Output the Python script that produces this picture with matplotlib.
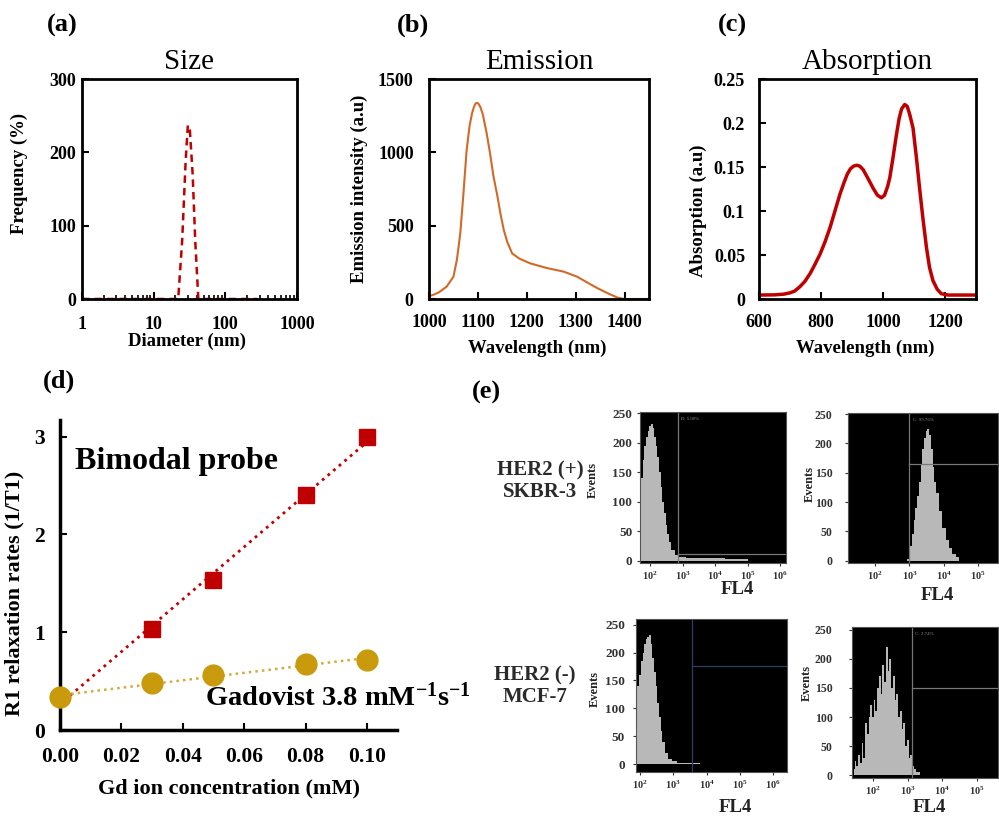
import numpy as np
import matplotlib
matplotlib.use("Agg")
import matplotlib.pyplot as plt

plt.rcParams["font.family"] = ["Liberation Serif", "DejaVu Serif"]
plt.rcParams["font.weight"] = "bold"
plt.rcParams["axes.labelweight"] = "bold"
plt.rcParams["mathtext.default"] = "regular"

W, H = 999, 818
RED = "#c00000"
ORANGE = "#d06a28"
GOLD = "#c99a0c"
HIST = "#b8b8b8"

# -----------------------------
# Data
# -----------------------------
# (a) size distribution
size_nm = [1, 22, 25, 28, 30, 32, 35, 38, 42, 280]
size_freq = [0, 0, 80, 190, 237, 230, 170, 80, 0, 0]

# (b) emission spectrum
em_wl = [1000, 1010, 1020, 1036, 1050, 1057, 1064, 1070, 1077, 1083, 1088, 1092, 1095,
         1098, 1101, 1105, 1110, 1118, 1125, 1132, 1140, 1146, 1153, 1160, 1170, 1185,
         1207, 1240, 1276, 1303, 1325, 1345, 1365, 1386, 1400, 1450]
em_int = [20, 30, 45, 84, 152, 266, 448, 700, 1016, 1180, 1266, 1310, 1332,
          1338, 1332, 1310, 1260, 1130, 990, 834, 700, 584, 470, 390, 311, 275,
          243, 212, 186, 152, 110, 73, 40, 9, 0, 0]

# (c) absorption spectrum
abs_wl = [600, 650, 680, 700, 715, 732, 748, 765, 780, 797, 813, 829, 845, 861, 875,
          885, 895, 905, 915, 925, 936, 950, 968, 982, 995, 1005, 1015, 1022, 1032,
          1043, 1052, 1060, 1070, 1078, 1086, 1097, 1108, 1118, 1128, 1140, 1150,
          1161, 1175, 1188, 1210, 1300]
abs_val = [0.0045, 0.0047, 0.0055, 0.007, 0.009, 0.014, 0.020, 0.029, 0.039, 0.051,
           0.065, 0.081, 0.100, 0.119, 0.133, 0.142, 0.148, 0.151, 0.152, 0.151,
           0.147, 0.138, 0.126, 0.118, 0.115, 0.118, 0.128, 0.138, 0.160,
           0.186, 0.205, 0.216, 0.221, 0.219, 0.210, 0.194, 0.160, 0.126, 0.094,
           0.059, 0.036, 0.021, 0.011, 0.006, 0.0045, 0.0045]

# (d) relaxation rates
gd_conc = [0.0, 0.03, 0.05, 0.08, 0.10]
r1_probe = [0.33, 1.03, 1.53, 2.40, 3.00]
r1_gadovist = [0.34, 0.48, 0.56, 0.67, 0.72]

# (e) flow cytometry histograms (log10 FL4, events)
her2p_ctrl_x = [1.7, 1.75, 1.8, 1.85, 1.9, 1.95, 2.0, 2.05, 2.1, 2.15, 2.2, 2.25, 2.3,
                2.35, 2.4, 2.45, 2.5, 2.55, 2.6, 2.7, 2.8, 2.9, 3.0, 3.2, 3.5, 4.0, 4.5, 5.0]
her2p_ctrl_y = [105, 140, 170, 195, 210, 220, 228, 232, 225, 210, 195, 175, 150,
                125, 100, 80, 60, 45, 32, 18, 10, 7, 6, 5, 5, 4, 3, 2]
her2p_probe_x = [2.9, 2.95, 3.0, 3.05, 3.1, 3.15, 3.2, 3.25, 3.3, 3.35, 3.4, 3.45, 3.5,
                 3.55, 3.6, 3.65, 3.7, 3.75, 3.8, 3.9, 4.0, 4.1, 4.2, 4.3, 4.4, 4.5]
her2p_probe_y = [0, 3, 10, 25, 45, 70, 90, 110, 135, 165, 190, 210, 222,
                 225, 215, 190, 160, 135, 115, 85, 55, 35, 22, 12, 6, 0]
her2n_ctrl_x = [1.88, 1.95, 2.0, 2.05, 2.1, 2.15, 2.2, 2.25, 2.3, 2.35, 2.4, 2.45, 2.5,
                2.55, 2.6, 2.65, 2.7, 2.8, 2.9, 3.0, 3.2, 3.5, 4.0]
her2n_ctrl_y = [110, 140, 160, 185, 200, 215, 225, 228, 232, 215, 190, 165, 140,
                110, 85, 60, 40, 20, 10, 5, 3, 2, 1]
her2n_probe_x = [1.45, 1.5, 1.55, 1.6, 1.65, 1.7, 1.75, 1.8, 1.85, 1.9, 1.95, 2.0, 2.05,
                 2.1, 2.15, 2.2, 2.25, 2.3, 2.35, 2.4, 2.45, 2.5, 2.55, 2.6, 2.65, 2.7,
                 2.75, 2.8, 2.85, 2.9, 2.95, 3.0, 3.05, 3.1, 3.15, 3.2, 3.3, 3.4]
her2n_probe_y = [10, 25, 15, 35, 20, 55, 30, 90, 70, 100, 120, 100, 130,
                 110, 150, 170, 140, 190, 160, 220, 180, 200, 150, 170, 130, 140,
                 100, 110, 80, 90, 50, 60, 30, 35, 15, 10, 5, 0]


# -----------------------------
# Helpers
# -----------------------------
def box(left, top, right, bottom):
    return [left / W, 1 - bottom / H, (right - left) / W, (bottom - top) / H]


def fxy(x, y):
    return x / W, 1 - y / H


def style_frame(ax, ypad, xpad):
    for s in ax.spines.values():
        s.set_linewidth(2)
    ax.tick_params(direction="in", width=1.5, length=5, labelsize=13)
    ax.tick_params(axis="y", pad=ypad)
    ax.tick_params(axis="x", pad=xpad)
    ax.tick_params(which="minor", direction="in", width=1.2, length=3)


def top_labels(ax, title, xlabel, ylabel, xlab_y, ylab_x, ylab_y):
    ax.set_title(title, fontsize=21, fontweight="normal", pad=7)
    ax.set_xlabel(xlabel, fontsize=13.5)
    ax.set_ylabel(ylabel, fontsize=13.5)
    ax.xaxis.set_label_coords(0.49, xlab_y)
    ax.yaxis.set_label_coords(ylab_x, ylab_y)


# -----------------------------
# Top row
# -----------------------------
def plot_size(fig):
    ax = fig.add_axes(box(82, 79, 297, 299))
    ax.plot(size_nm, size_freq, color=RED, ls=(0, (3, 2)), lw=1.8)
    ax.set_xscale("log")
    ax.set_xlim(1, 1000)
    ax.set_ylim(0, 300)
    ax.set_xticks([1, 10, 100, 1000], ["1", "10", "100", "1000"])
    ax.set_yticks([0, 100, 200, 300])
    style_frame(ax, 4, 12)
    top_labels(ax, "Size", "Diameter (nm)", "Frequency (%)", -0.155, -0.25, 0.57)


def plot_emission(fig):
    ax = fig.add_axes(box(429, 79, 649, 299))
    ax.plot(em_wl, em_int, color=ORANGE, lw=1.5)
    ax.set_xlim(1000, 1450)
    ax.set_ylim(0, 1500)
    ax.set_xticks([1000, 1100, 1200, 1300, 1400])
    ax.set_yticks([0, 500, 1000, 1500])
    style_frame(ax, 11, 11)
    top_labels(ax, "Emission", "Wavelength (nm)", "Emission intensity (a.u)",
               -0.185, -0.275, 0.5)


def plot_absorption(fig):
    ax = fig.add_axes(box(759, 79, 976, 299))
    ax.plot(abs_wl, abs_val, color=RED, lw=2.5)
    ax.set_xlim(600, 1300)
    ax.set_ylim(0, 0.25)
    ax.set_xticks([600, 800, 1000, 1200])
    ax.set_yticks([0, 0.05, 0.1, 0.15, 0.2, 0.25],
                  ["0", "0.05", "0.1", "0.15", "0.2", "0.25"])
    style_frame(ax, 10, 11)
    top_labels(ax, "Absorption", "Wavelength (nm)", "Absorption (a.u)",
               -0.185, -0.24, 0.4)


# -----------------------------
# Relaxation panel
# -----------------------------
def plot_relaxation(fig):
    ax = fig.add_axes(box(60, 420, 397, 730))
    x = np.array(gd_conc)
    xs = np.array([0.0015, 0.1])
    k1, b1 = np.polyfit(x, r1_probe, 1)
    k2, b2 = np.polyfit(x, r1_gadovist, 1)
    ax.plot(xs, k1 * xs + b1, color=RED, ls=":", lw=2, zorder=2)
    ax.plot(xs, k2 * xs + b2, color="#d2ab3a", ls=":", lw=1.8, zorder=2)
    ax.plot(x[1:], r1_probe[1:], "s", color=RED, ms=12, zorder=3)
    ax.plot(x, r1_gadovist, "o", color=GOLD, ms=15, zorder=4, clip_on=False)
    ax.set_xlim(0, 0.1098)
    ax.set_ylim(0, 3.17)
    ax.set_xticks([0, 0.02, 0.04, 0.06, 0.08, 0.10],
                  ["0.00", "0.02", "0.04", "0.06", "0.08", "0.10"])
    ax.set_yticks([0, 1, 2, 3])
    for s in ["top", "right"]:
        ax.spines[s].set_visible(False)
    for s in ["left", "bottom"]:
        ax.spines[s].set_linewidth(2.5)
    ax.tick_params(direction="in", width=1.5, length=5, labelsize=15.5)
    ax.tick_params(axis="x", pad=12)
    ax.tick_params(axis="y", pad=11)
    ax.set_xlabel("Gd ion concentration (mM)", fontsize=16)
    ax.set_ylabel("R1 relaxation rates (1/T1)", fontsize=16)
    ax.xaxis.set_label_coords(0.5, -0.155)
    ax.yaxis.set_label_coords(-0.104, 0.44)
    fig.text(*fxy(75, 462), "Bimodal probe", fontsize=23, va="center", ha="left")
    fig.text(*fxy(205, 697), "Gadovist 3.8 mM$^{-1}$s$^{-1}$", fontsize=20.5,
             va="center", ha="left")


# -----------------------------
# Flow cytometry panels
# -----------------------------
def plot_flow(fig, rect, logx, counts, xlim_log, ylim, gate_x, gate_y, note,
              ysize, ypad, lab_xy, gate_color="#777777"):
    ax = fig.add_axes(rect)
    ax.set_facecolor("black")
    ax.fill_between(10 ** np.array(logx), counts, step="mid", color=HIST, lw=0)
    ax.set_xscale("log")
    ax.set_xlim(10 ** xlim_log[0], 10 ** xlim_log[1])
    ax.set_ylim(*ylim)
    ax.axvline(10 ** gate_x, color=gate_color, lw=0.9)
    if gate_y is not None:
        ax.plot([10 ** gate_x, 10 ** xlim_log[1]], [gate_y, gate_y],
                color=gate_color, lw=0.9)
    ax.text(10 ** (gate_x + 0.1), ylim[1] - 8, note, color="#8a8a8a",
            fontsize=3.5, fontweight="normal", va="top")
    lo, hi = int(np.ceil(xlim_log[0])), int(np.floor(xlim_log[1]))
    ax.set_xticks([10 ** k for k in range(lo, hi + 1)],
                  [f"$10^{{{k}}}$" for k in range(lo, hi + 1)])
    ax.xaxis.set_minor_locator(matplotlib.ticker.NullLocator())
    ax.set_yticks([0, 50, 100, 150, 200, 250])
    for s in ax.spines.values():
        s.set_color("#555555")
        s.set_linewidth(0.8)
    ax.tick_params(axis="x", labelsize=7.5, length=2, pad=3, colors="#333333")
    ax.tick_params(axis="y", labelsize=ysize, length=2, pad=ypad, colors="#333333")
    ax.set_ylabel("Events", fontsize=9, color="#222222")
    ax.yaxis.set_label_coords(*lab_xy)
    return ax


def plot_cells(fig):
    plot_flow(fig, box(640, 412, 786, 563), her2p_ctrl_x, her2p_ctrl_y,
              (1.69, 6.18), (-4, 252), 2.85, 12, "B: 5.00%",
              9.5, 3.5, (-0.28, 0.55))
    plot_flow(fig, box(848, 413, 998, 563), her2p_probe_x, her2p_probe_y,
              (1.21, 5.58), (-4, 252), 3.0, 165, "C: 99.76%",
              8.5, 9, (-0.213, 0.53))
    plot_flow(fig, box(636, 619, 787, 772), her2n_ctrl_x, her2n_ctrl_y,
              (1.88, 6.42), (-14, 260), 3.55, 175, "",
              9.5, 6, (-0.23, 0.54), gate_color="#2c3f66")
    plot_flow(fig, box(852, 627, 998, 778), her2n_probe_x, her2n_probe_y,
              (1.4, 5.6), (-5, 255), 3.12, 150, "C: 2.74%",
              8.5, 12, (-0.27, 0.63))

    for x, y in [(737, 590), (937, 596), (735, 808), (929, 808)]:
        fig.text(*fxy(x, y), "FL4", fontsize=13.5, ha="center", va="center",
                 color="#222222")
    fig.text(*fxy(540, 481), "HER2 (+)\nSKBR-3", fontsize=15, ha="center",
             va="center", color="#2a2a2a", linespacing=1.1)
    fig.text(*fxy(535, 686), "HER2 (-)\nMCF-7", fontsize=15, ha="center",
             va="center", color="#2a2a2a", linespacing=1.1)


# -----------------------------
# Main
# -----------------------------
def main():
    fig = plt.figure(figsize=(W / 100, H / 100), dpi=100)

    plot_size(fig)
    plot_emission(fig)
    plot_absorption(fig)
    plot_relaxation(fig)
    plot_cells(fig)

    for lab, x, y in [("(a)", 62, 25), ("(b)", 413, 25), ("(c)", 732, 25),
                      ("(d)", 59, 381), ("(e)", 486, 392)]:
        fig.text(*fxy(x, y), lab, fontsize=19, ha="center", va="center")

    fig.savefig("out.png", dpi=100)


if __name__ == "__main__":
    main()
